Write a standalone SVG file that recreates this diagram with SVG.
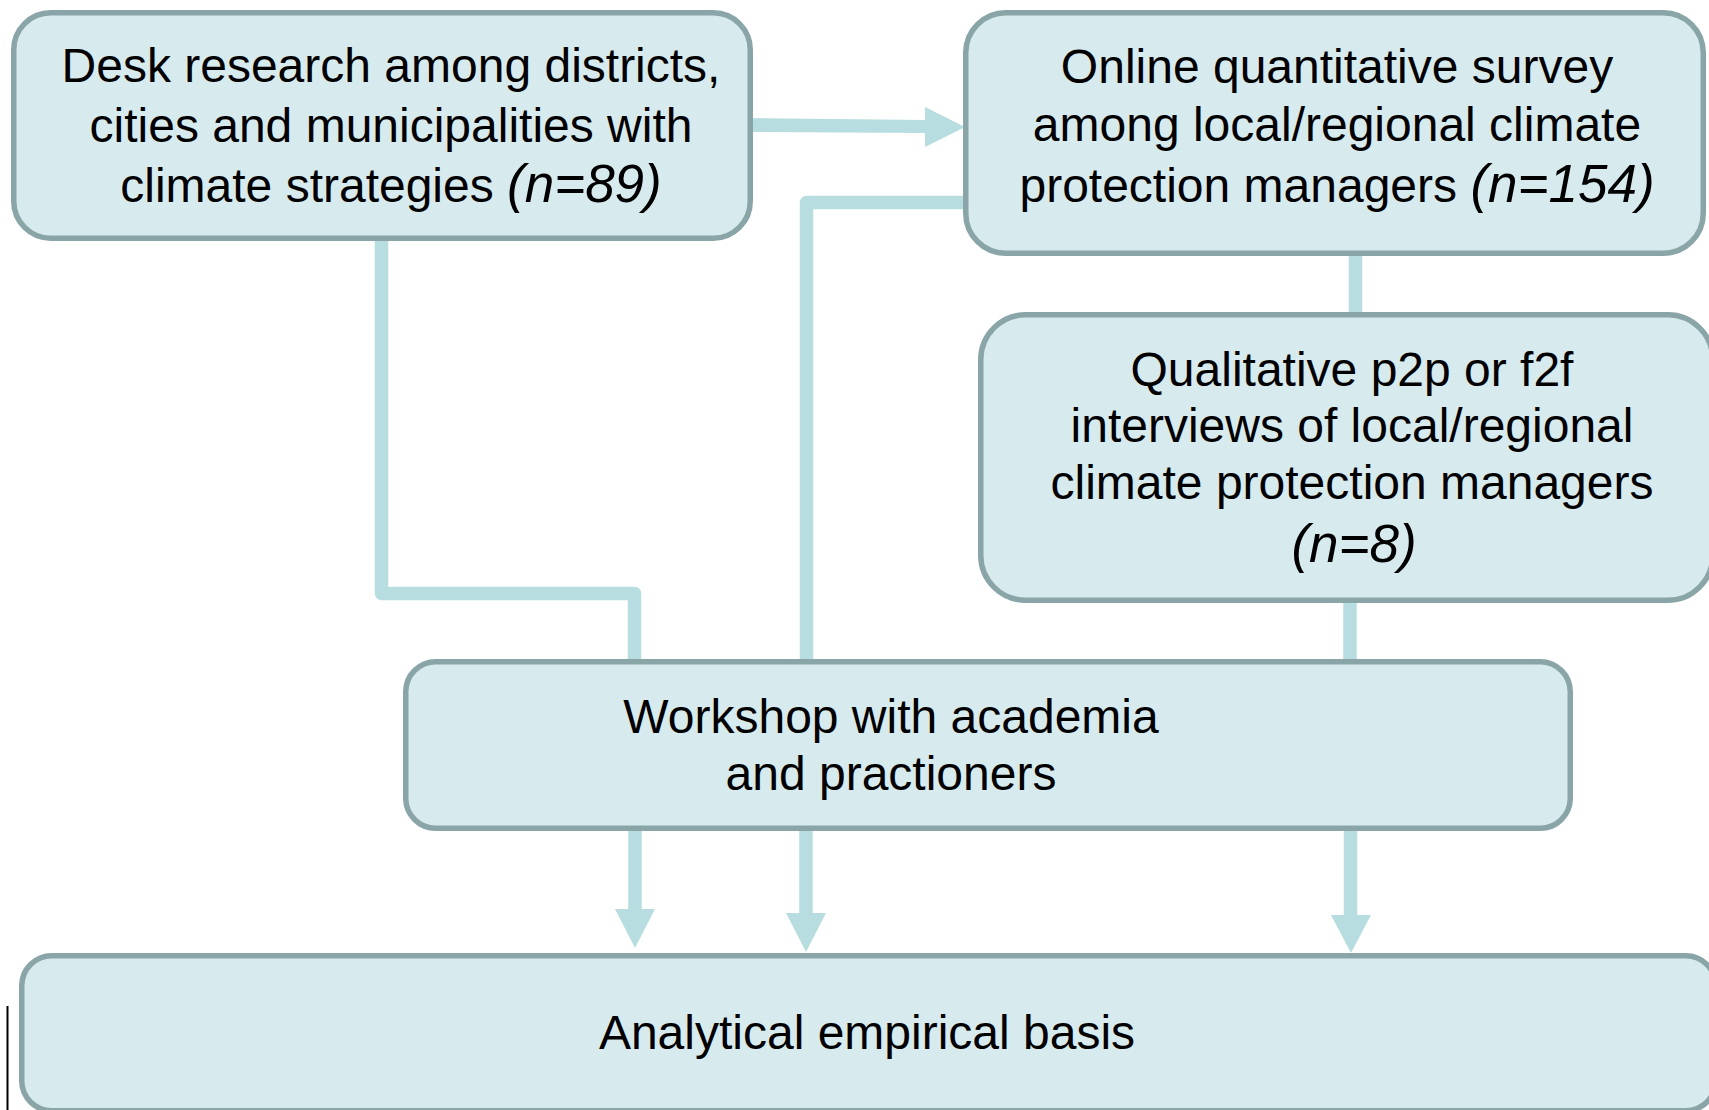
<svg xmlns="http://www.w3.org/2000/svg" width="1709" height="1110" viewBox="0 0 1709 1110">
  <style>
    .box { fill: #d7ebee; stroke: #8aa5a8; stroke-width: 5.5; }
    .wire { fill: none; stroke: #b7dde0; stroke-width: 13.5; stroke-linejoin: round; }
    .head { fill: #b7dde0; stroke: none; }
    .label { font-family: "Liberation Sans", Arial, sans-serif; font-size: 48px; fill: #000; text-anchor: middle; }
    .it { font-style: italic; font-size: 53px; }
  </style>
  <rect width="1709" height="1110" fill="#ffffff"/>

  <!-- connectors -->
  <g id="connectors">
    <!-- desk research -> online survey -->
    <polygon class="head" points="751,118 926,120 926,133 751,132"/>
    <polygon class="head" points="925,107 965,127 925,147"/>
    <!-- desk research -> workshop -->
    <path class="wire" d="M381.5,238 V593.5 H634.5 V662"/>
    <!-- online survey -> workshop -->
    <path class="wire" d="M966,202.5 H806.5 V662"/>
    <!-- online survey -> qualitative interviews -->
    <path class="wire" d="M1355.5,254 V314"/>
    <!-- qualitative interviews -> workshop -->
    <path class="wire" d="M1350,601 V662"/>
    <!-- workshop -> analytical basis -->
    <path class="wire" d="M635,829 V911"/>
    <polygon class="head" points="615,909 655,909 635,948"/>
    <path class="wire" d="M806,829 V915"/>
    <polygon class="head" points="786,913 826,913 806,952"/>
    <path class="wire" d="M1350.5,829 V917"/>
    <polygon class="head" points="1331,915 1371,915 1351,953"/>
  </g>

  <g id="desk-research">
    <rect class="box" x="13.75" y="12.75" width="736.5" height="225.5" rx="37" ry="37"/>
    <text class="label" x="391" y="82">Desk research among districts,</text>
    <text class="label" x="391" y="142">cities and municipalities with</text>
    <text class="label" x="391" y="202">climate strategies <tspan class="it">(n=89)</tspan></text>
  </g>

  <g id="online-survey">
    <rect class="box" x="965.75" y="12.75" width="737.5" height="240.5" rx="40" ry="40"/>
    <text class="label" x="1337" y="83">Online quantitative survey</text>
    <text class="label" x="1337" y="141">among local/regional climate</text>
    <text class="label" x="1337" y="202">protection managers <tspan class="it">(n=154)</tspan></text>
  </g>

  <g id="qualitative-interviews">
    <rect class="box" x="980.75" y="314.75" width="732" height="285.5" rx="45" ry="45"/>
    <text class="label" x="1352" y="386">Qualitative p2p or f2f</text>
    <text class="label" x="1352" y="442">interviews of local/regional</text>
    <text class="label" x="1352" y="499">climate protection managers</text>
    <text class="label it" x="1354" y="562">(n=8)</text>
  </g>

  <g id="workshop">
    <rect class="box" x="405.75" y="661.75" width="1164.5" height="166.5" rx="30" ry="30"/>
    <text class="label" x="891" y="733">Workshop with academia</text>
    <text class="label" x="891" y="790">and practioners</text>
  </g>

  <g id="analytical-basis">
    <rect class="box" x="21.75" y="955.75" width="1694" height="155" rx="30" ry="30"/>
    <text class="label" x="867" y="1049">Analytical empirical basis</text>
  </g>

  <line x1="7.5" y1="1006" x2="7.5" y2="1110" stroke="#000000" stroke-width="2"/>
</svg>
